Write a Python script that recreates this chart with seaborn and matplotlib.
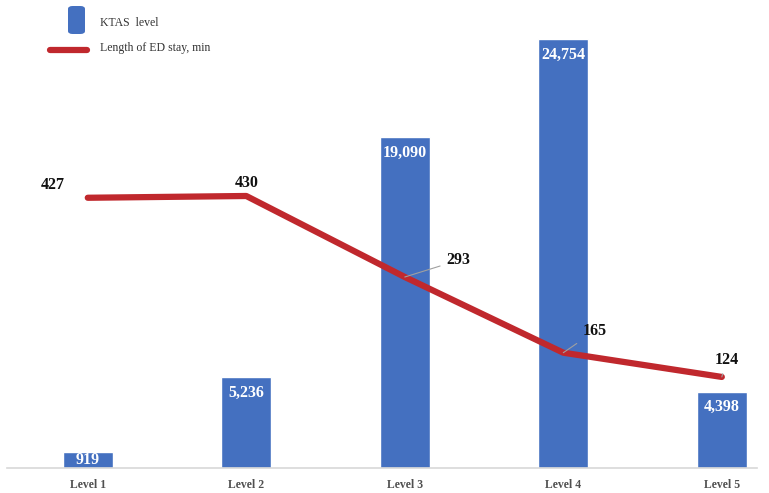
import numpy as np
import matplotlib
matplotlib.use("Agg")
import matplotlib.pyplot as plt
import seaborn as sns
from matplotlib.patches import FancyBboxPatch
from matplotlib.lines import Line2D

levels = ["Level 1", "Level 2", "Level 3", "Level 4", "Level 5"]
patients = [919, 5236, 19090, 24754, 4398]
stay_min = [427, 430, 293, 165, 124]

BLUE = "#4470C0"
RED = "#C0282D"
SERIF = ["Liberation Serif", "DejaVu Serif"]

sns.set_theme(style="white")
plt.rcParams["font.family"] = SERIF

fig = plt.figure(figsize=(7.69, 4.93), dpi=100)
ax = fig.add_axes([0.009, 0.0507, 0.975, 0.896])

sns.barplot(x=levels, y=patients, color=BLUE, width=0.315, saturation=1, ax=ax)
ax.set_xlim(-0.51, 4.22)
ax.set_ylim(0, 25500)
for s in ["top", "right", "left"]:
    ax.spines[s].set_visible(False)
ax.spines["bottom"].set_color("#D8D8D8")
ax.spines["bottom"].set_linewidth(1.2)
ax.set_yticks([])
ax.set_ylabel("")
ax.set_xlabel("")
ax.tick_params(axis="x", length=0, pad=8, labelsize=8.5, labelcolor="#505050")
for t in ax.get_xticklabels():
    t.set_fontweight("bold")

for i, v in enumerate(patients):
    ax.annotate(f"{v:,}", xy=(i, v), xytext=(0, -11 if v > 2000 else -6),
                textcoords="offset points", ha="center", va="center",
                color="white", fontsize=11.5, fontweight="bold")

ax2 = ax.twinx()
sns.lineplot(x=np.arange(len(levels)), y=stay_min, color=RED, linewidth=4.5,
             ax=ax2, solid_capstyle="round", solid_joinstyle="round")
ax2.set_ylim(-30, 717)
ax2.set_xlim(-0.51, 4.22)
ax2.set_yticks([])
for s in ax2.spines.values():
    s.set_visible(False)

# line labels
offsets = [(-0.22, 22, False), (0.0, 22, False), (0.26, 28, True),
           (0.12, 36, True), (0.03, 29, True)]
for i, v in enumerate(stay_min):
    dx, dy, leader = offsets[i]
    if leader:
        ax2.annotate(f"{v}", xy=(i, v), xytext=(i + dx, v + dy),
                     ha="left" if i < 4 else "center", va="center",
                     fontsize=11.5, fontweight="bold", color="#111111",
                     arrowprops=dict(arrowstyle="-", color="#A0A0A0", lw=0.8,
                                     shrinkA=2, shrinkB=0))
    else:
        ax2.text(i + dx, v + dy, f"{v}", ha="center", va="center",
                 fontsize=11.5, fontweight="bold", color="#111111")

# legend
fig.patches.append(FancyBboxPatch((68 / 769, 1 - 34 / 493), 17 / 769, 28 / 493,
                                  boxstyle="round,pad=0,rounding_size=0.006",
                                  transform=fig.transFigure, facecolor=BLUE,
                                  edgecolor="none"))
fig.lines.append(Line2D([50 / 769, 87 / 769], [1 - 50 / 493, 1 - 50 / 493],
                        transform=fig.transFigure, color=RED, linewidth=4.5))
fig.text(100 / 769, 1 - 23 / 493, "KTAS  level", fontsize=8.5, va="center", color="#333333")
fig.text(100 / 769, 1 - 48 / 493, "Length of ED stay, min", fontsize=8.5, va="center", color="#333333")

fig.savefig("out.png", dpi=100)
